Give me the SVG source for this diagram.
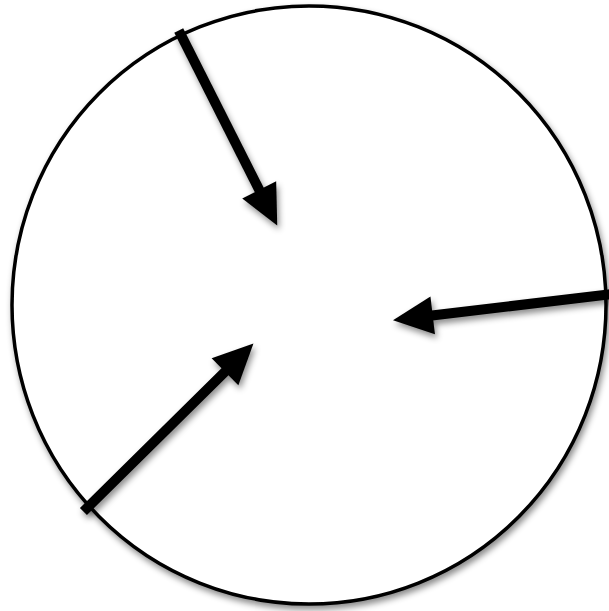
<svg xmlns="http://www.w3.org/2000/svg" width="609" height="611" viewBox="0 0 609 611">
<defs>
<filter id="sh" x="-20%" y="-20%" width="140%" height="140%">
<feDropShadow dx="2" dy="4" stdDeviation="3" flood-color="#000" flood-opacity="0.45"/>
</filter>
<marker id="ah" markerUnits="userSpaceOnUse" markerWidth="40" markerHeight="38" refX="0" refY="19" orient="auto" overflow="visible">
<path d="M0,0 L40,19 L0,38 Z" fill="#000"/>
</marker>
<style>
.circ{fill:#fff;stroke:#000;stroke-width:3.5;}
.arr{stroke:#000;stroke-width:10;stroke-linecap:square;fill:none;marker-end:url(#ah);}
</style>
</defs>
<rect width="609" height="611" fill="#fff"/>
<g id="circle" filter="url(#sh)">
<ellipse class="circ" cx="309" cy="305" rx="297" ry="299"/>
</g>
<g id="connectors" filter="url(#sh)">
<line class="arr" x1="181" y1="35" x2="259.2" y2="189.9"/>
<line class="arr" x1="612" y1="294" x2="432.7" y2="315.4"/>
<line class="arr" x1="87" y1="508" x2="225" y2="371.7"/>
</g>
</svg>
